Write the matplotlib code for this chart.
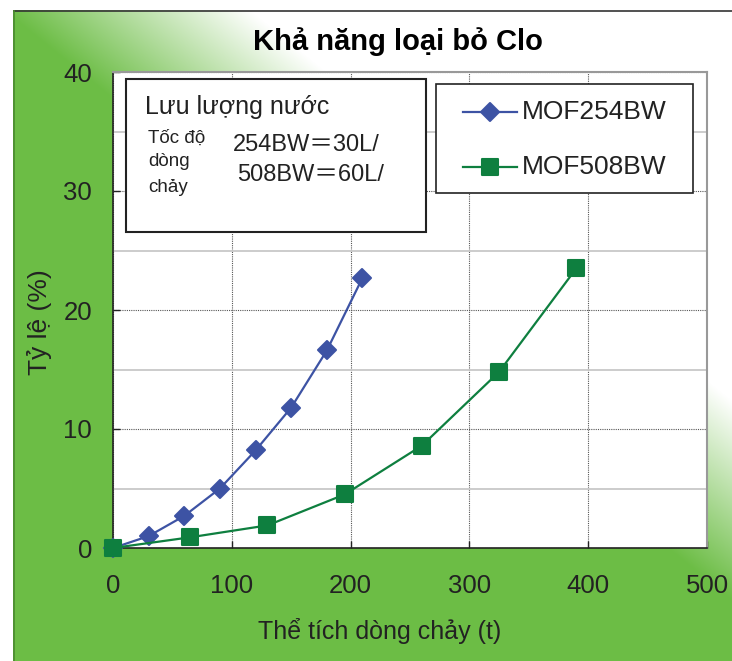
import numpy as np
import matplotlib
matplotlib.use("Agg")
import matplotlib.pyplot as plt
from matplotlib.patches import Rectangle
from matplotlib.lines import Line2D
from matplotlib.markers import MarkerStyle

# data
vol_254 = [0, 30, 60, 90, 120, 150, 180, 210]
rate_254 = [0, 1.0, 2.7, 5.0, 8.2, 11.8, 16.6, 22.7]
vol_508 = [0, 65, 130, 195, 260, 325, 390]
rate_508 = [0, 0.9, 1.9, 4.5, 8.6, 14.8, 23.5]
x_ticks = [0, 100, 200, 300, 400, 500]
y_ticks = [0, 10, 20, 30, 40]
names = ["MOF254BW", "MOF508BW"]

W, H = 732, 661
def fx(px):
    return px / W
def fy(py):
    return 1 - py / H

blue = "#3d53a4"
green = "#0e7f3f"

plt.rcParams['font.family'] = ['Liberation Sans', 'DejaVu Sans']
fig = plt.figure(figsize=(W / 100, H / 100), dpi=100)

# green gradient panel behind everything
bg = fig.add_axes([0, 0, 1, 1], zorder=0)
yy, xx = np.mgrid[0:H, 0:W]
s = yy - 10 - 0.81 * (xx - 250)
t = np.clip(s / 200, 0, 1)[..., None]
g = np.array([108, 189, 69]) / 255
img = (1 - t) * np.ones(3) + t * g
img[(xx < 13) | (yy < 10)] = 1
bg.imshow(img, aspect='auto', interpolation='bilinear')
bg.plot([13, W], [10, 10], color="#333333", lw=1.2)
bg.plot([13, 13], [10, H], color="#4a8a30", lw=1.2)
bg.set_xlim(-0.5, W - 0.5)
bg.set_ylim(H - 0.5, -0.5)
bg.axis('off')

ax = fig.add_axes([fx(113), fy(548), fx(707) - fx(113), (548 - 72) / H], zorder=1)
ax.set_facecolor("white")

mk_d = MarkerStyle('D', joinstyle='round')
mk_s = MarkerStyle('s', joinstyle='round')
ax.plot(vol_254, rate_254, color=blue, lw=1.6, marker=mk_d, ms=9.5,
        mew=1.5, mec=blue, zorder=4, clip_on=False)
ax.plot(vol_508, rate_508, color=green, lw=1.6, marker=mk_s, ms=11,
        mew=1.5, mec=green, zorder=4, clip_on=False)

ax.set_xlim(0, 500)
ax.set_ylim(0, 40)
ax.set_xticks(x_ticks)
ax.set_yticks(y_ticks)
ax.set_yticks([5, 15, 25, 35], minor=True)
ax.tick_params(which='major', direction='in', length=5, width=1, labelsize=18.5,
               colors="#222222")
ax.tick_params(axis='x', pad=19)
ax.tick_params(axis='y', pad=15)
ax.tick_params(which='minor', length=0)
ax.grid(which='major', color="#555555", ls=(0, (1, 1)), lw=0.8)
ax.grid(which='minor', axis='y', color="#c8c8c8", ls='-', lw=1.3)
ax.set_axisbelow(True)
for side in ['left', 'bottom']:
    ax.spines[side].set_color("#222222")
    ax.spines[side].set_linewidth(1.2)
for side in ['top', 'right']:
    ax.spines[side].set_color("#999999")
    ax.spines[side].set_linewidth(1.5)

fig.text(fx(398), fy(42), "Khả năng loại bỏ Clo", ha='center', va='center',
         fontsize=21, fontweight='bold',
         family=['Liberation Sans Narrow', 'Liberation Sans', 'DejaVu Sans'])
fig.text(fx(380), fy(631), "Thể tích dòng chảy (t)", ha='center', va='center',
         fontsize=18, color="#222222")
fig.text(fx(40), fy(322), "Tỷ lệ (%)", ha='center', va='center', rotation=90,
         fontsize=19, color="#222222")

# note box
fig.add_artist(Rectangle((fx(126), fy(232)), fx(426) - fx(126), (232 - 79) / H,
                         transform=fig.transFigure, facecolor='white',
                         edgecolor="#222222", lw=1.5, zorder=5))
cjk = ['Liberation Sans', 'Noto Sans CJK JP', 'DejaVu Sans']
fig.text(fx(145), fy(107), "Lưu lượng nước", fontsize=18, va='center', zorder=6,
         color="#222222")
fig.text(fx(148), fy(138), "Tốc độ", fontsize=13.5, va='center', zorder=6, color="#222222")
fig.text(fx(148), fy(162), "dòng", fontsize=13.5, va='center', zorder=6, color="#222222")
fig.text(fx(148), fy(187), "chảy", fontsize=13.5, va='center', zorder=6, color="#222222")
fig.text(fx(233), fy(145), "254BW＝30L/", fontsize=17, va='center', zorder=6,
         family=cjk, color="#222222")
fig.text(fx(237), fy(175), "508BW＝60L/", fontsize=17, va='center', zorder=6,
         family=cjk, color="#222222")

# legend box
fig.add_artist(Rectangle((fx(436), fy(193)), fx(693) - fx(436), (193 - 84) / H,
                         transform=fig.transFigure, facecolor='white',
                         edgecolor="#222222", lw=1.2, zorder=5))
for name, col, mk, ms, ypx in [(names[0], blue, mk_d, 9.5, 112),
                               (names[1], green, mk_s, 11, 167)]:
    fig.add_artist(Line2D([fx(463), fx(517)], [fy(ypx), fy(ypx)],
                          transform=fig.transFigure, color=col, lw=1.6, zorder=6))
    fig.add_artist(Line2D([fx(490)], [fy(ypx)], transform=fig.transFigure,
                          marker=mk, ms=ms, color=col, mec=col, mew=1.5, zorder=7))
    fig.text(fx(522), fy(ypx), name, fontsize=19, va='center', zorder=6,
             color="#222222")

fig.savefig("out.png", dpi=100)
